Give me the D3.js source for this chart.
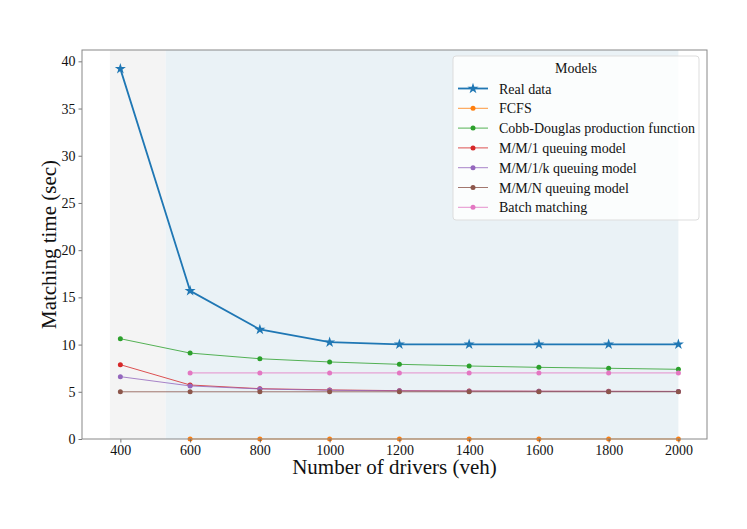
<!DOCTYPE html>
<html><head><meta charset="utf-8">
<script src="https://cdn.jsdelivr.net/npm/d3@7/dist/d3.min.js"></script>
<style>body{margin:0;background:#fff}svg{display:block}text{font-family:"Liberation Serif","Times New Roman",serif}</style>
</head><body><svg id="c" width="747" height="529"></svg>
<script>
const drivers = [400, 600, 800, 1000, 1200, 1400, 1600, 1800, 2000];
const realData = [39.2, 15.7, 11.6, 10.25, 10.03, 10.02, 10.02, 10.02, 10.02];
const fcfs = [null, 0, 0, 0, 0, 0, 0, 0, 0];
const cobbDouglas = [10.62, 9.1, 8.5, 8.16, 7.91, 7.73, 7.59, 7.49, 7.38];
const mm1 = [7.87, 5.72, 5.33, 5.2, 5.12, 5.08, 5.06, 5.05, 5.04];
const mm1k = [6.6, 5.62, 5.3, 5.16, 5.1, 5.07, 5.05, 5.04, 5.03];
const mmn = [5.0, 5.0, 5.0, 5.0, 5.0, 5.0, 5.0, 5.0, 5.0];
const batch = [null, 7.0, 7.0, 7.0, 7.0, 7.0, 7.0, 7.0, 7.0];
const seriesNames = ["Real data", "FCFS", "Cobb-Douglas production function", "M/M/1 queuing model", "M/M/1/k queuing model", "M/M/N queuing model", "Batch matching"];
const seriesValues = [realData, fcfs, cobbDouglas, mm1, mm1k, mmn, batch];
const colors = ["#1f77b4", "#ff7f0e", "#2ca02c", "#d62728", "#9467bd", "#8c564b", "#e377c2"];
const xTicks = [400, 600, 800, 1000, 1200, 1400, 1600, 1800, 2000];
const yTicks = [0, 5, 10, 15, 20, 25, 30, 35, 40];
const spans = [{from: 370, to: 530, fill: "#f4f4f4"}, {from: 530, to: 2000, fill: "#eaf2f6"}];

const svg = d3.select("#c");
svg.append("rect").attr("width", 747).attr("height", 529).attr("fill", "#fff");
const L = 82, R = 707, T = 50, B = 439;
const x = d3.scaleLinear().domain([290, 2082]).range([L, R]);
const y = d3.scaleLinear().domain([0, 41.2]).range([B, T]);
const serif = '"Liberation Serif","Times New Roman",serif';

// spans
svg.selectAll("rect.span").data(spans).join("rect").attr("class", "span")
  .attr("x", d => x(d.from)).attr("width", d => x(d.to) - x(d.from))
  .attr("y", T).attr("height", B - T).attr("fill", d => d.fill);

// series
const plot = svg.append("g");
const star = d3.symbol().type(d3.symbolStar).size(38);
seriesValues.forEach((vals, i) => {
  const pts = drivers.map((d, j) => ({x: d, y: vals[j]})).filter(p => p.y !== null);
  const line = d3.line().x(p => x(p.x)).y(p => y(p.y));
  const g = plot.append("g");
  g.append("path").attr("d", line(pts)).attr("fill", "none").attr("stroke", colors[i])
    .attr("stroke-width", i === 0 ? 1.8 : 1).attr("opacity", i === 0 ? 1 : 0.8);
  if (i === 0) {
    g.selectAll("path.m").data(pts).join("path").attr("class", "m")
      .attr("d", star)
      .attr("transform", p => `translate(${x(p.x)},${y(p.y)})`).attr("fill", colors[i]);
  } else {
    g.selectAll("circle").data(pts).join("circle").attr("cx", p => x(p.x)).attr("cy", p => y(p.y))
      .attr("r", 2.5).attr("fill", colors[i]);
  }
});

// axes
const xa = svg.append("g").attr("transform", `translate(0,${B})`)
  .call(d3.axisBottom(x).tickValues(xTicks).tickFormat(d3.format("d")).tickSize(3.5).tickPadding(3));
const ya = svg.append("g").attr("transform", `translate(${L},0)`)
  .call(d3.axisLeft(y).tickValues(yTicks).tickFormat(d3.format("d")).tickSize(3.5).tickPadding(3));
[xa, ya].forEach(a => {
  a.attr("font-family", serif);
  a.select(".domain").remove();
  a.selectAll("line").attr("stroke", "#555").attr("stroke-width", 0.8);
  a.selectAll("text").attr("font-size", 14).attr("fill", "#111");
});
svg.append("rect").attr("x", L).attr("y", T).attr("width", R - L).attr("height", B - T)
  .attr("fill", "none").attr("stroke", "#888").attr("stroke-width", 1);

// axis titles
svg.append("text").attr("x", (L + R) / 2).attr("y", 474).attr("text-anchor", "middle")
  .attr("font-size", 21).attr("fill", "#111").text("Number of drivers (veh)");
svg.append("text").attr("transform", `translate(56,${(T + B) / 2}) rotate(-90)`).attr("text-anchor", "middle")
  .attr("font-size", 21).attr("fill", "#111").text("Matching time (sec)");

// legend
const lg = svg.append("g").attr("font-family", serif);
lg.append("rect").attr("x", 453).attr("y", 56).attr("width", 246).attr("height", 164).attr("rx", 3)
  .attr("fill", "#fff").attr("fill-opacity", 0.8).attr("stroke", "#ddd").attr("stroke-width", 1);
lg.append("text").attr("x", 576).attr("y", 73).attr("text-anchor", "middle").attr("font-size", 14)
  .attr("fill", "#111").text("Models");
seriesNames.forEach((name, i) => {
  const cy = 88.5 + i * 19.8;
  lg.append("line").attr("x1", 458).attr("x2", 488).attr("y1", cy).attr("y2", cy)
    .attr("stroke", colors[i]).attr("stroke-width", i === 0 ? 1.8 : 1).attr("opacity", i === 0 ? 1 : 0.8);
  if (i === 0) lg.append("path").attr("d", star())
    .attr("transform", `translate(473,${cy})`).attr("fill", colors[i]);
  else lg.append("circle").attr("cx", 473).attr("cy", cy).attr("r", 2.5).attr("fill", colors[i]);
  lg.append("text").attr("x", 499).attr("y", cy + 5).attr("font-size", 14).attr("fill", "#111").text(name);
});
</script></body></html>
